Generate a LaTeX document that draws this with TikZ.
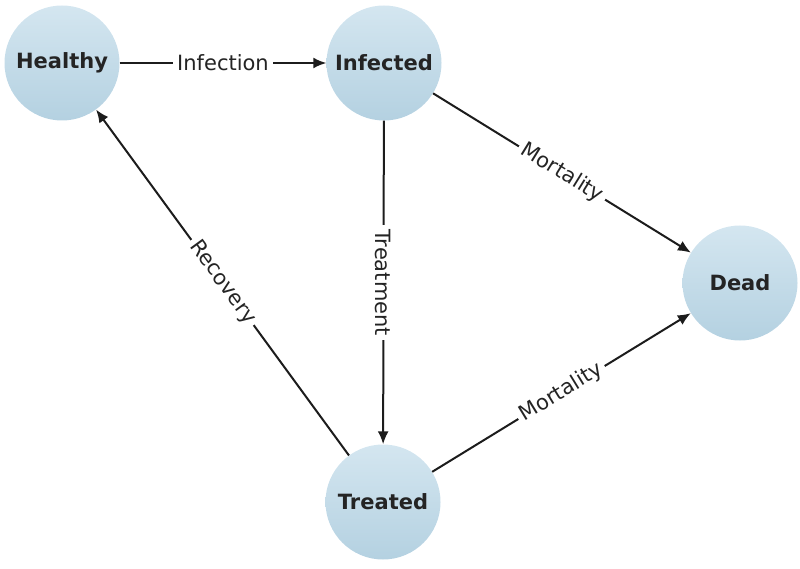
\documentclass[tikz,border=0pt]{standalone}
\usepackage{fontspec}
\setmainfont{DejaVu Sans}
\usetikzlibrary{arrows.meta}
\definecolor{nodetop}{RGB}{212,230,240}
\definecolor{nodebot}{RGB}{180,209,225}
\definecolor{inkc}{RGB}{28,28,28}
\definecolor{textc}{RGB}{36,36,36}
\tikzset{
  state/.style={circle, minimum size=115pt, inner sep=0pt, top color=nodetop, bottom color=nodebot, draw=none,
    text=textc, font=\fontsize{21}{25}\selectfont\bfseries},
  flow/.style={draw=inkc, line width=2pt, -{Latex[length=13pt,width=11pt]}},
  lab/.style={fill=white, inner sep=4pt, text=textc, font=\fontsize{21}{25}\selectfont, midway}
}
\begin{document}
\begin{tikzpicture}[x=1pt,y=-1pt]
\useasboundingbox (0,0) rectangle (800,569);
\node[state] (healthy) at (62,63) {Healthy};
\node[state] (infected) at (384,63) {Infected};
\node[state] (dead) at (740,283) {Dead};
\node[state] (treated) at (383,502) {Treated};
\draw[flow] (healthy) -- node[lab] {Infection} (infected);
\draw[flow] (infected) -- node[lab, rotate=-90] {Treatment} (treated);
\draw[flow] (infected) -- node[lab, sloped] {Mortality} (dead);
\draw[flow] (treated) -- node[lab, sloped] {Mortality} (dead);
\draw[flow] (treated) -- node[lab, sloped] {Recovery} (healthy);
\end{tikzpicture}
\end{document}
